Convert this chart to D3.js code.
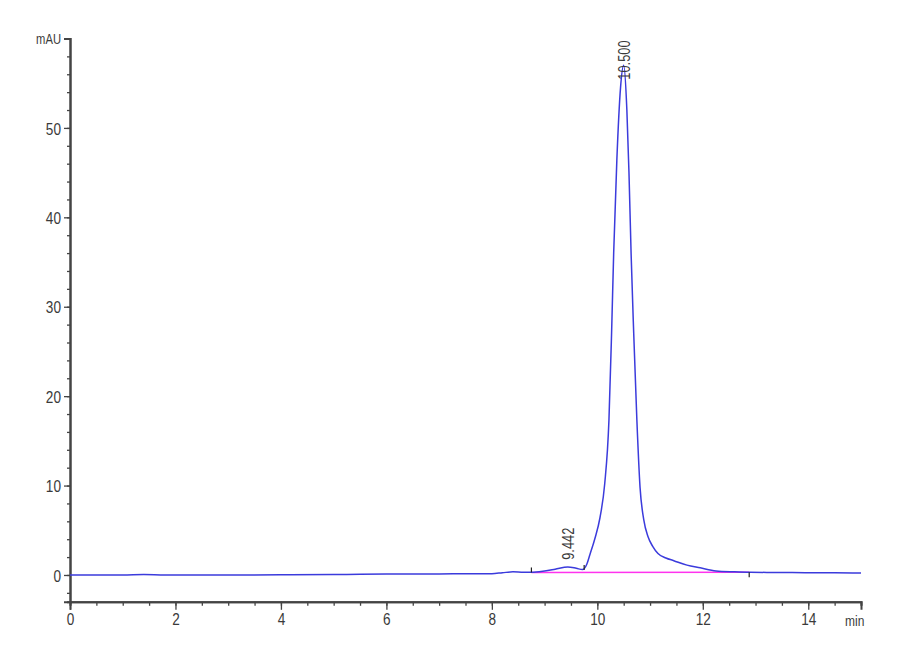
<!DOCTYPE html>
<html>
<head>
<meta charset="utf-8">
<script src="https://cdn.jsdelivr.net/npm/d3@7"></script>
<style>
  body { margin: 0; background: #fff; }
  svg { display: block; }
  text { font-family: "Liberation Sans Narrow", "Arial Narrow", "Liberation Sans", sans-serif; fill: #3a3a3a; }
</style>
</head>
<body>
<svg></svg>
<script>
// chromatogram trace (min, mAU)
const time = [0, 1, 1.4, 1.8, 2, 3, 4, 5, 5.5, 6, 7, 8, 8.2, 8.4, 8.6, 8.75, 9.0, 9.2, 9.44, 9.6, 9.72,
  9.8, 9.86, 9.95, 10.05, 10.14, 10.22, 10.27, 10.31, 10.37, 10.44, 10.5, 10.56, 10.6, 10.64, 10.69,
  10.75, 10.81, 10.88, 10.96, 11.05, 11.15, 11.3, 11.45, 11.7, 11.95, 12.25, 12.6, 12.9, 13.5, 14, 14.5, 15]
const signal = [0, 0, 0.05, 0, 0, 0, 0.02, 0.05, 0.08, 0.1, 0.12, 0.15, 0.25, 0.35, 0.3, 0.3, 0.45, 0.65, 0.9, 0.75, 0.6,
  1.2, 2.3, 4.0, 6.4, 10.2, 17.3, 27, 36, 46.4, 54.5, 57.0, 52, 45, 36, 27,
  17.3, 9.8, 6.2, 4.3, 3.2, 2.4, 1.9, 1.6, 1.1, 0.8, 0.45, 0.35, 0.3, 0.28, 0.25, 0.25, 0.22]

// integration baseline and marker ticks
const baseTime = [8.75, 12.88]
const baseValue = [0.28, 0.3]
const markTime = [8.75, 9.75, 12.88]
const markValue = [0.28, 0.55, 0.3]
const markDir = [1, 1, -1]

// peak annotations (label foot in mAU)
const peakTime = [9.442, 10.5]
const peakLabelAt = [1.7, 55.4]
const peakLabel = ['9.442', '10.500']

const xTicks = [0, 2, 4, 6, 8, 10, 12, 14]
const yTicks = [0, 10, 20, 30, 40, 50, 60]

const [svgWidth, svgHeight] = [900, 660]
const svg = d3.select('svg').attr('width', svgWidth).attr('height', svgHeight)

const x = d3.scaleLinear().domain([0, 15]).range([70, 861])
const y = d3.scaleLinear().domain([-3, 60]).range([601.8, 38.5])

const axisColor = '#444'
const translate = (a, b) => `translate(${a}, ${b})`

// squeeze text to look like the narrow instrument font
const narrow = sel => sel.each(function () {
  const w = this.getComputedTextLength()
  d3.select(this).attr('textLength', w * 0.8).attr('lengthAdjust', 'spacingAndGlyphs')
})

// minor ticks
const xMinor = d3.axisBottom(x).tickValues(d3.range(0, 15.01, 0.5)).tickSize(4).tickFormat('')
const yMinor = d3.axisLeft(y).tickValues(d3.range(-2, 60, 2)).tickSize(3).tickFormat('')
svg.append('g').attr('transform', translate(0, 601.8)).call(xMinor)
svg.append('g').attr('transform', translate(70, 0)).call(yMinor)

const xAxis = d3.axisBottom(x).tickValues(xTicks).tickSize(8).tickPadding(3)
const yAxis = d3.axisLeft(y).tickValues(yTicks).tickSize(6).tickPadding(3)
  .tickFormat(d => d === 60 ? 'mAU' : d)

const gx = svg.append('g').attr('transform', translate(0, 601.8)).call(xAxis)
const gy = svg.append('g').attr('transform', translate(70, 0)).call(yAxis)

svg.selectAll('.domain').attr('stroke', axisColor).attr('stroke-width', 2)
svg.selectAll('.tick line').attr('stroke', axisColor).attr('stroke-width', 1.3)
gx.selectAll('text').style('font-size', '17px').attr('fill', '#3a3a3a').call(narrow)
gy.selectAll('text').style('font-size', '17px').attr('fill', '#3a3a3a').attr('dy', '0.36em')
gy.selectAll('.tick').filter(d => d === 60).select('text').style('font-size', '14px')
gy.selectAll('text').call(narrow)

svg.append('text')
  .attr('x', 845).attr('y', 626)
  .style('font-size', '15px').attr('fill', '#555')
  .text('min').call(narrow)

// trace
const data = time.map((t, i) => ({t, v: signal[i]}))
const line = d3.line().x(d => x(d.t)).y(d => y(d.v)).curve(d3.curveMonotoneX)

svg.append('path').datum(d3.zip(baseTime, baseValue))
  .attr('d', d3.line().x(d => x(d[0])).y(d => y(d[1])))
  .attr('fill', 'none').attr('stroke', '#ff33ee').attr('stroke-width', 1.6)

svg.append('path').datum(data)
  .attr('d', line)
  .attr('fill', 'none').attr('stroke', '#3b3bdc').attr('stroke-width', 1.5)

svg.selectAll('.mark').data(markTime).enter().append('line')
  .attr('x1', d => x(d)).attr('x2', d => x(d))
  .attr('y1', (d, i) => y(markValue[i]))
  .attr('y2', (d, i) => y(markValue[i]) - markDir[i] * 5)
  .attr('stroke', '#222').attr('stroke-width', 1.2)

// peak labels, rotated
svg.selectAll('.plabel').data(peakTime).enter().append('text')
  .attr('transform', (d, i) => translate(x(d) + 6, y(peakLabelAt[i])) + ' rotate(-90)')
  .style('font-size', '16px').attr('fill', '#3a3a3a')
  .text((d, i) => peakLabel[i])
  .call(narrow)
</script>
</body>
</html>
